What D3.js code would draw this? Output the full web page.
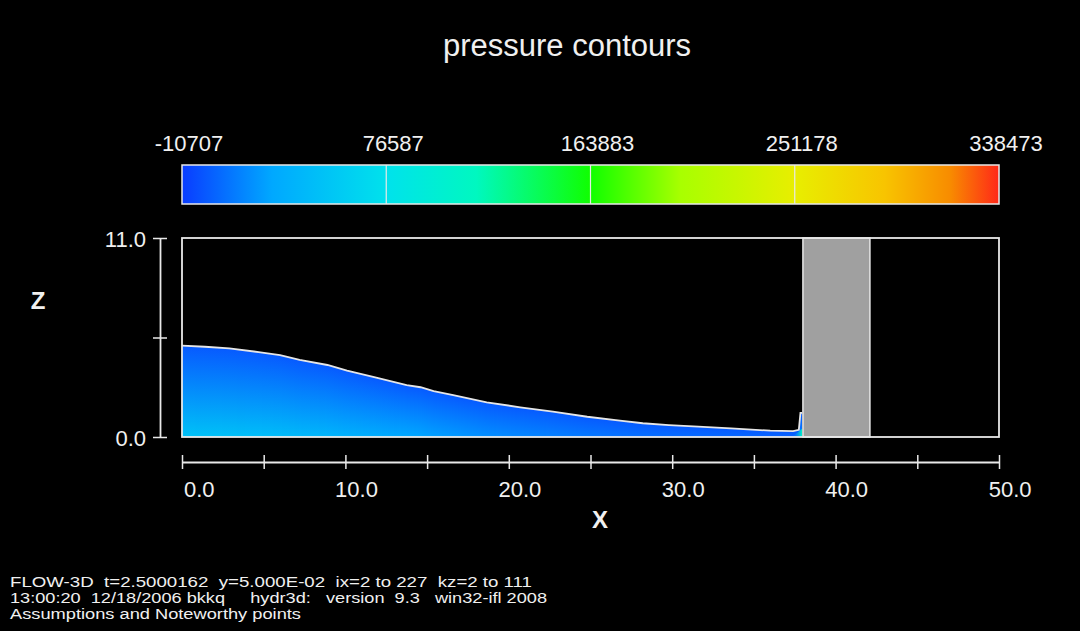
<!DOCTYPE html>
<html>
<head>
<meta charset="utf-8">
<script src="https://cdn.jsdelivr.net/npm/d3@7"></script>
<style>
  html, body { margin: 0; padding: 0; background: #000; }
  svg { display: block; }
  text { font-family: 'Liberation Sans', Arial, sans-serif; fill: #f0f0f0; }
</style>
</head>
<body>
<svg id="chart" width="1080" height="631"></svg>
<script>
// colour bar
const colorbarTicks = [-10707, 76587, 163883, 251178, 338473]
const colorbarColors = ['#0a3cff', '#00a8ff', '#00e2ec', '#00f8c0', '#10ff00', '#a8ff00', '#e8ee00', '#f8c400', '#f88c00', '#ff2818']
const colorbarStops = [0, 0.11, 0.25, 0.36, 0.5, 0.61, 0.75, 0.86, 0.94, 1]

// free surface of the water, x and z in metres
const surfaceX = [0, 1.4, 2.9, 4.8, 6.0, 7.2, 8.9, 10.1, 11.7, 13.75, 14.6, 15.4, 16.6, 18.65, 20.7, 22.7, 24.8, 26.8, 28.2, 29.8, 31.6, 33.6, 36.0, 37.4, 37.75, 37.85, 37.95]
const surfaceZ = [5.05, 4.99, 4.90, 4.68, 4.53, 4.26, 3.98, 3.67, 3.33, 2.87, 2.75, 2.54, 2.32, 1.92, 1.64, 1.40, 1.12, 0.90, 0.76, 0.66, 0.57, 0.48, 0.35, 0.33, 0.40, 1.33, 1.33]

// obstacle (grey block)
const obstacleX = [38, 42.1]

// axes
const xTicks = [0, 5, 10, 15, 20, 25, 30, 35, 40, 45, 50]
const zTicks = [0, 5.5, 11]
const xDomain = [0, 50]
const zDomain = [0, 11]

const title = 'pressure contours'
const footer = [
  'FLOW-3D  t=2.5000162  y=5.000E-02  ix=2 to 227  kz=2 to 111',
  '13:00:20  12/18/2006 bkkq     hydr3d:   version  9.3   win32-ifl 2008',
  'Assumptions and Noteworthy points'
]

const rhoG = 9810

const svg = d3.select('#chart')
const defs = svg.append('defs')

svg.append('rect').attr('width', 1080).attr('height', 631).attr('fill', '#000')

const xScale = d3.scaleLinear().domain(xDomain).range([182, 999])
const zScale = d3.scaleLinear().domain(zDomain).range([437, 238])
const pScale = d3.scaleLinear().domain(d3.extent(colorbarTicks)).range([182, 999])
const pColor = d3.scaleLinear()
  .domain(colorbarStops.map(s => colorbarTicks[0] + s * (colorbarTicks[4] - colorbarTicks[0])))
  .range(colorbarColors)
  .clamp(true)

// title
svg.append('text')
  .attr('x', 567).attr('y', 56)
  .attr('text-anchor', 'middle')
  .style('font-size', '31px')
  .text(title)

// colour bar
const cbGrad = defs.append('linearGradient').attr('id', 'cbGrad')
cbGrad.selectAll('stop').data(colorbarStops).join('stop')
  .attr('offset', d => d)
  .attr('stop-color', (d, i) => colorbarColors[i])

svg.append('rect')
  .attr('x', pScale(colorbarTicks[0])).attr('y', 165)
  .attr('width', pScale(colorbarTicks[4]) - pScale(colorbarTicks[0])).attr('height', 39)
  .attr('fill', 'url(#cbGrad)')
  .attr('stroke', '#e8e8e8').attr('stroke-width', 1.5)

svg.append('g').selectAll('line').data(colorbarTicks.slice(1, 4)).join('line')
  .attr('x1', d => pScale(d)).attr('x2', d => pScale(d))
  .attr('y1', 165).attr('y2', 204)
  .attr('stroke', '#e8e8e8').attr('stroke-width', 1.2)

svg.append('g').selectAll('text').data(colorbarTicks).join('text')
  .attr('x', d => pScale(d) + 7).attr('y', 151)
  .attr('text-anchor', 'middle')
  .style('font-size', '22px')
  .text(d => d)

// water, coloured by hydrostatic pressure below the free surface (one gradient per pixel column)
const surfaceAt = x => {
  const i = Math.max(1, d3.bisectLeft(surfaceX, x))
  const t = (x - surfaceX[i - 1]) / (surfaceX[i] - surfaceX[i - 1])
  return surfaceZ[i - 1] + t * (surfaceZ[i] - surfaceZ[i - 1])
}
const cols = d3.range(Math.round(xScale(surfaceX[0])), Math.round(xScale(surfaceX[surfaceX.length - 1])))
const plot = svg.append('g')
cols.forEach((px, i) => {
  const h = surfaceAt(xScale.invert(px + 0.5))
  const id = 'wg' + i
  const g = defs.append('linearGradient').attr('id', id)
    .attr('gradientUnits', 'userSpaceOnUse')
    .attr('x1', 0).attr('x2', 0)
    .attr('y1', zScale(h)).attr('y2', zScale(0))
  g.append('stop').attr('offset', 0).attr('stop-color', pColor(0))
  g.append('stop').attr('offset', 1).attr('stop-color', pColor(rhoG * h))
  plot.append('rect')
    .attr('x', px).attr('width', 1.05)
    .attr('y', zScale(h)).attr('height', zScale(0) - zScale(h))
    .attr('fill', `url(#${id})`)
    .attr('shape-rendering', 'crispEdges')
})

// stagnation pressure at the foot of the obstacle
const stagGrad = defs.append('linearGradient').attr('id', 'stagGrad')
stagGrad.append('stop').attr('offset', 0).attr('stop-color', pColor(rhoG * 0.33)).attr('stop-opacity', 0)
stagGrad.append('stop').attr('offset', 1).attr('stop-color', pColor(110000))
plot.append('path')
  .attr('d', `M${xScale(37.3)},${zScale(0)}L${xScale(37.95)},${zScale(0)}L${xScale(37.95)},${zScale(0.45)}L${xScale(37.75)},${zScale(0.3)}Z`)
  .attr('fill', 'url(#stagGrad)')

// free surface line
plot.append('path')
  .datum(surfaceX.map((x, i) => [x, surfaceZ[i]]))
  .attr('fill', 'none')
  .attr('stroke', '#e6e6e6').attr('stroke-width', 1.8)
  .attr('d', d3.line().x(d => xScale(d[0])).y(d => zScale(d[1])))

// obstacle
svg.append('rect')
  .attr('x', xScale(obstacleX[0])).attr('y', zScale(zDomain[1]))
  .attr('width', xScale(obstacleX[1]) - xScale(obstacleX[0]))
  .attr('height', zScale(zDomain[0]) - zScale(zDomain[1]))
  .attr('fill', '#a0a0a0')
  .attr('stroke', '#e8e8e8').attr('stroke-width', 1.5)

// domain box
svg.append('rect')
  .attr('x', xScale(xDomain[0])).attr('y', zScale(zDomain[1]))
  .attr('width', xScale(xDomain[1]) - xScale(xDomain[0]))
  .attr('height', zScale(zDomain[0]) - zScale(zDomain[1]))
  .attr('fill', 'none')
  .attr('stroke', '#e8e8e8').attr('stroke-width', 1.8)

// x axis
const xAxis = d3.axisBottom(xScale)
  .tickValues(xTicks)
  .tickSize(0)
  .tickFormat(d => d % 10 === 0 ? d.toFixed(1) : '')

function customXAxis (g) {
  g.call(xAxis)
  g.select('.domain').attr('stroke', '#e8e8e8').attr('stroke-width', 1.8)
  g.selectAll('.tick line').attr('y1', -7).attr('y2', 7)
    .attr('stroke', '#e8e8e8').attr('stroke-width', 1.5)
  g.selectAll('.tick text')
    .attr('y', 35).attr('dy', 0).attr('x', 32)
    .attr('text-anchor', 'end')
    .style('font-size', '22px').style('fill', '#f0f0f0')
    .style('font-family', "'Liberation Sans', Arial, sans-serif")
}
svg.append('g').attr('transform', 'translate(0,462)').call(customXAxis)

svg.append('text')
  .attr('x', 600).attr('y', 528)
  .attr('text-anchor', 'middle')
  .style('font-size', '24px').style('font-weight', 'bold')
  .text('X')

// z axis
const zAxis = d3.axisLeft(zScale)
  .tickValues(zTicks)
  .tickSize(0)
  .tickFormat(d => d === 5.5 ? '' : d.toFixed(1))

function customZAxis (g) {
  g.call(zAxis)
  g.select('.domain').attr('stroke', '#e8e8e8').attr('stroke-width', 1.8)
  g.selectAll('.tick line').attr('x1', -7).attr('x2', 7)
    .attr('stroke', '#e8e8e8').attr('stroke-width', 1.5)
  g.selectAll('.tick text')
    .attr('x', -14).attr('dy', 8)
    .style('font-size', '22px').style('fill', '#f0f0f0')
    .style('font-family', "'Liberation Sans', Arial, sans-serif")
}
svg.append('g').attr('transform', 'translate(160,0)').call(customZAxis)

svg.append('text')
  .attr('x', 38).attr('y', 309)
  .attr('text-anchor', 'middle')
  .style('font-size', '24px').style('font-weight', 'bold')
  .text('Z')

// footer
const footerWidths = [522, 537, 291]
svg.append('g').selectAll('text').data(footer).join('text')
  .attr('x', 10).attr('y', (d, i) => 587 + i * 16)
  .attr('textLength', (d, i) => footerWidths[i])
  .attr('lengthAdjust', 'spacingAndGlyphs')
  .style('font-size', '15.5px')
  .style('font-family', "'Liberation Sans Narrow', 'Liberation Sans', Arial, sans-serif")
  .style('white-space', 'pre')
  .text(d => d)
</script>
</body>
</html>
